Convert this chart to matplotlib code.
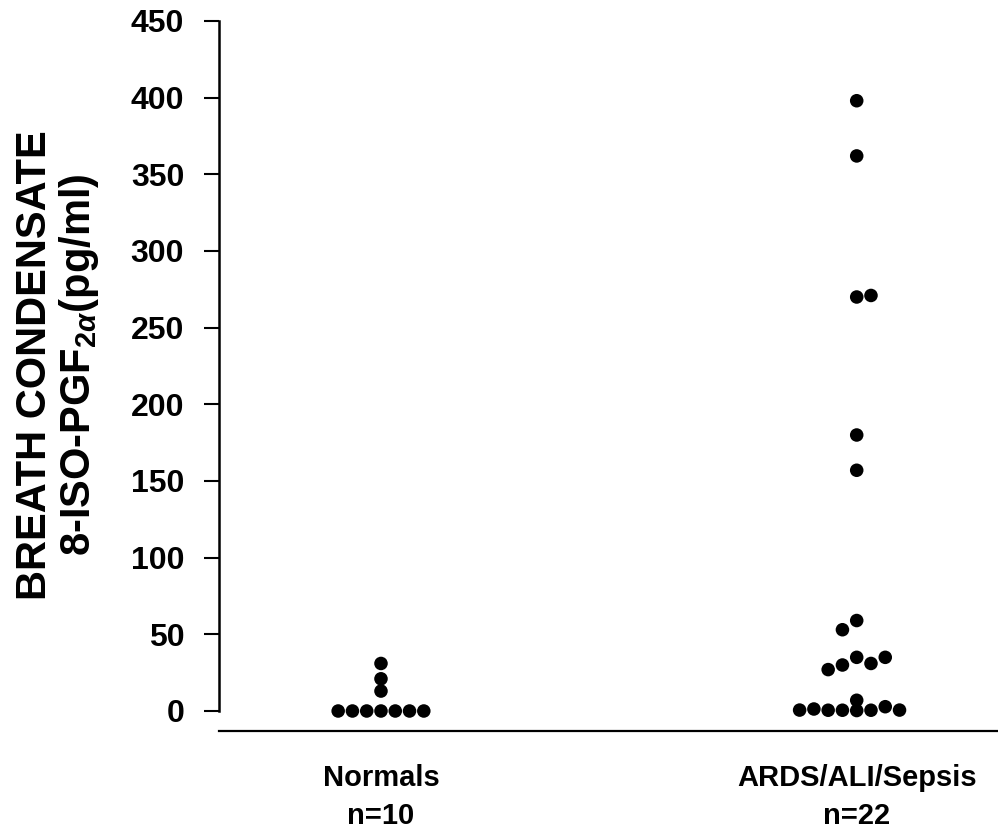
import numpy as np
import matplotlib
matplotlib.use("Agg")
import matplotlib.pyplot as plt
from matplotlib import font_manager

# values (pg/ml); slot = horizontal position of the dot in its group
NORMALS = [0, 0, 0, 0, 0, 0, 0, 13, 21, 31]
NORMALS_SLOT = [-3, -2, -1, 0, 1, 2, 3, 0, 0, 0]
ARDS = [0.6, 1.3, 0.5, 0.5, 7, 0.3, 0.5, 2.8, 0.6,
        27, 30, 35, 31, 35,
        53, 59,
        157, 180, 270, 271, 362, 398]
ARDS_SLOT = [-4, -3, -2, -1, 0, 0, 1, 2, 3,
             -2, -1, 0, 1, 2,
             -1, 0,
             0, 0, 0, 1, 0, 0]
GROUPS = ["Normals\nn=10", "ARDS/ALI/Sepsis\nn=22"]
YTICKS = np.arange(0, 451, 50)

plt.rcParams["font.family"] = ["Liberation Sans", "DejaVu Sans"]
plt.rcParams["font.weight"] = "bold"
plt.rcParams["mathtext.fontset"] = "custom"
plt.rcParams["mathtext.rm"] = "Liberation Sans:bold"
plt.rcParams["mathtext.it"] = "Liberation Sans:italic:bold"
plt.rcParams["mathtext.bf"] = "Liberation Sans:bold"

# group labels in the scan are a condensed face; use the narrow one if it is there
try:
    font_manager.findfont(font_manager.FontProperties(family="Liberation Sans Narrow"),
                          fallback_to_default=False)
    cat_font, cat_size = "Liberation Sans Narrow", 25
except ValueError:
    cat_font, cat_size = "Liberation Sans", 21

W, H = 998, 835
fig = plt.figure(figsize=(W / 100, H / 100), dpi=100)
ax = fig.add_axes([219 / W, 124 / H, (W - 219) / W, 690 / H])

step = 0.03
for xc, vals, slots in [(1, NORMALS, NORMALS_SLOT), (2, ARDS, ARDS_SLOT)]:
    x = xc + np.array(slots) * step
    ax.scatter(x, vals, s=95, color="black", edgecolors="none", clip_on=False, zorder=3)

ax.set_xlim(0.6595, 2.297)
ax.set_ylim(0, 450)
ax.set_yticks(YTICKS)
ax.set_yticklabels([str(v) for v in YTICKS], fontsize=23, fontweight="bold")
ax.tick_params(axis="y", length=11, width=1.5, pad=14)
ax.spines["left"].set_linewidth(1.8)
ax.spines["top"].set_visible(False)
ax.spines["right"].set_visible(False)
ax.spines["bottom"].set_position(("outward", 14.4))
ax.spines["bottom"].set_linewidth(1.6)

ax.set_xticks([1, 2])
ax.set_xticklabels(GROUPS, fontsize=cat_size, fontweight="bold",
                   family=[cat_font, "DejaVu Sans"], linespacing=1.45)
ax.tick_params(axis="x", length=0, pad=24)

fig.text(58 / W, (H - 365) / H,
         "BREATH CONDENSATE\n8-ISO-PGF$_{2\\alpha}$(pg/ml)",
         rotation=90, ha="center", va="center", multialignment="center",
         fontsize=30, fontweight="bold", linespacing=1.05)

fig.savefig("out.png", dpi=100)
